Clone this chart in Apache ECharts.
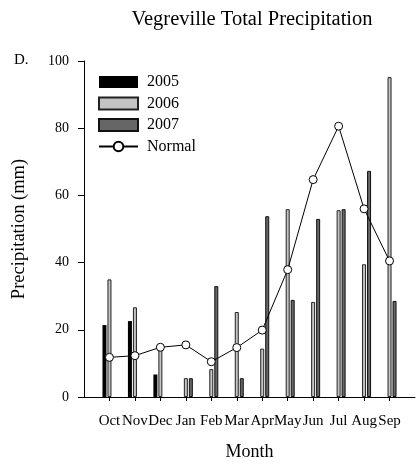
<!DOCTYPE html>
<html>
<head>
<meta charset="utf-8">
<script src="https://cdn.jsdelivr.net/npm/echarts@6/dist/echarts.min.js"></script>
<style>html,body{margin:0;padding:0;background:#fff;}#c{width:418px;height:466px;}</style>
</head>
<body>
<div id="c"></div>
<script>
var months = ['Oct','Nov','Dec','Jan','Feb','Mar','Apr','May','Jun','Jul','Aug','Sep'];
var p2005 = [21.4, 22.6, 6.7, null, null, null, null, null, null, null, null, null];
var p2006 = [35.0, 26.7, 14.2, 5.6, 8.3, 25.3, 14.4, 55.9, 28.3, 55.6, 39.5, 95.2];
var p2007 = [null, null, null, 5.6, 33.0, 5.6, 53.8, 28.9, 53.0, 55.9, 67.3, 28.6];
var normal = [11.8, 12.3, 14.8, 15.5, 10.5, 14.7, 19.9, 37.9, 64.7, 80.6, 56.0, 40.5];
var yTicks = [0, 20, 40, 60, 80, 100];

function pad(arr) { return [null].concat(arr).concat([null]); }
var cats = [''].concat(months).concat(['']);
var font = 'Liberation Serif';

var chart = echarts.init(document.getElementById('c'), null, {renderer: 'canvas'});
chart.setOption({
  animation: false,
  backgroundColor: '#fff',
  textStyle: {fontFamily: font, color: '#000'},
  title: {
    text: 'Vegreville Total Precipitation',
    left: 252, top: 9, textAlign: 'center', padding: 0,
    textStyle: {fontFamily: font, fontSize: 20.5, fontWeight: 'normal', color: '#000'}
  },
  graphic: [{
    type: 'text', left: 14, top: 53,
    style: {text: 'D.', fontFamily: font, fontSize: 15, fill: '#000'}
  }],
  legend: {
    orient: 'vertical', left: 98, top: 74, padding: 0,
    itemWidth: 39, itemHeight: 12, itemGap: 5.5,
    formatter: ' {name}',
    textStyle: {fontFamily: font, fontSize: 16, color: '#000'},
    data: [
      {name: '2005', icon: 'rect'}, {name: '2006', icon: 'rect'}, {name: '2007', icon: 'rect'},
      {name: 'Normal'}
    ]
  },
  grid: {left: 84, top: 61, width: 336, height: 336, containLabel: false},
  xAxis: {
    type: 'category', data: cats, boundaryGap: false,
    name: 'Month', nameLocation: 'middle', nameGap: 46,
    nameTextStyle: {fontFamily: font, fontSize: 18, color: '#000'},
    axisLine: {lineStyle: {color: '#000', width: 1}},
    axisTick: {show: true, length: 4, lineStyle: {color: '#000'},
      interval: function (i) { return i >= 1 && i <= 12; }},
    axisLabel: {interval: 0, margin: 17, fontFamily: font, fontSize: 15, color: '#000'},
    splitLine: {show: false}
  },
  yAxis: {
    type: 'value', min: 0, max: 100, interval: 20,
    name: 'Precipitation (mm)', nameLocation: 'middle', nameGap: 55,
    nameTextStyle: {fontFamily: font, fontSize: 18.5, color: '#000'},
    axisLine: {show: true, lineStyle: {color: '#000', width: 1}},
    axisTick: {show: true, length: 6, lineStyle: {color: '#000'}},
    axisLabel: {margin: 15, fontFamily: font, fontSize: 14, color: '#000',
      formatter: function (v) { return yTicks.indexOf(v) >= 0 ? String(v) : ''; }},
    splitLine: {show: false}
  },
  series: [
    {name: '2005', type: 'bar', data: pad(p2005), barWidth: 4, barGap: '25%',
     itemStyle: {color: '#000', borderColor: '#000', borderWidth: 0}},
    {name: '2006', type: 'bar', data: pad(p2006), barWidth: 4, barGap: '25%',
     itemStyle: {color: '#c4c4c4', borderColor: '#222', borderWidth: 1}},
    {name: '2007', type: 'bar', data: pad(p2007), barWidth: 4, barGap: '25%',
     itemStyle: {color: '#666', borderColor: '#111', borderWidth: 1}},
    {name: 'Normal', type: 'line', data: pad(normal), z: 5,
     symbol: 'circle', symbolSize: 8, showSymbol: true,
     lineStyle: {color: '#000', width: 1},
     itemStyle: {color: '#fff', borderColor: '#000', borderWidth: 1}}
  ]
});
</script>
</body>
</html>
